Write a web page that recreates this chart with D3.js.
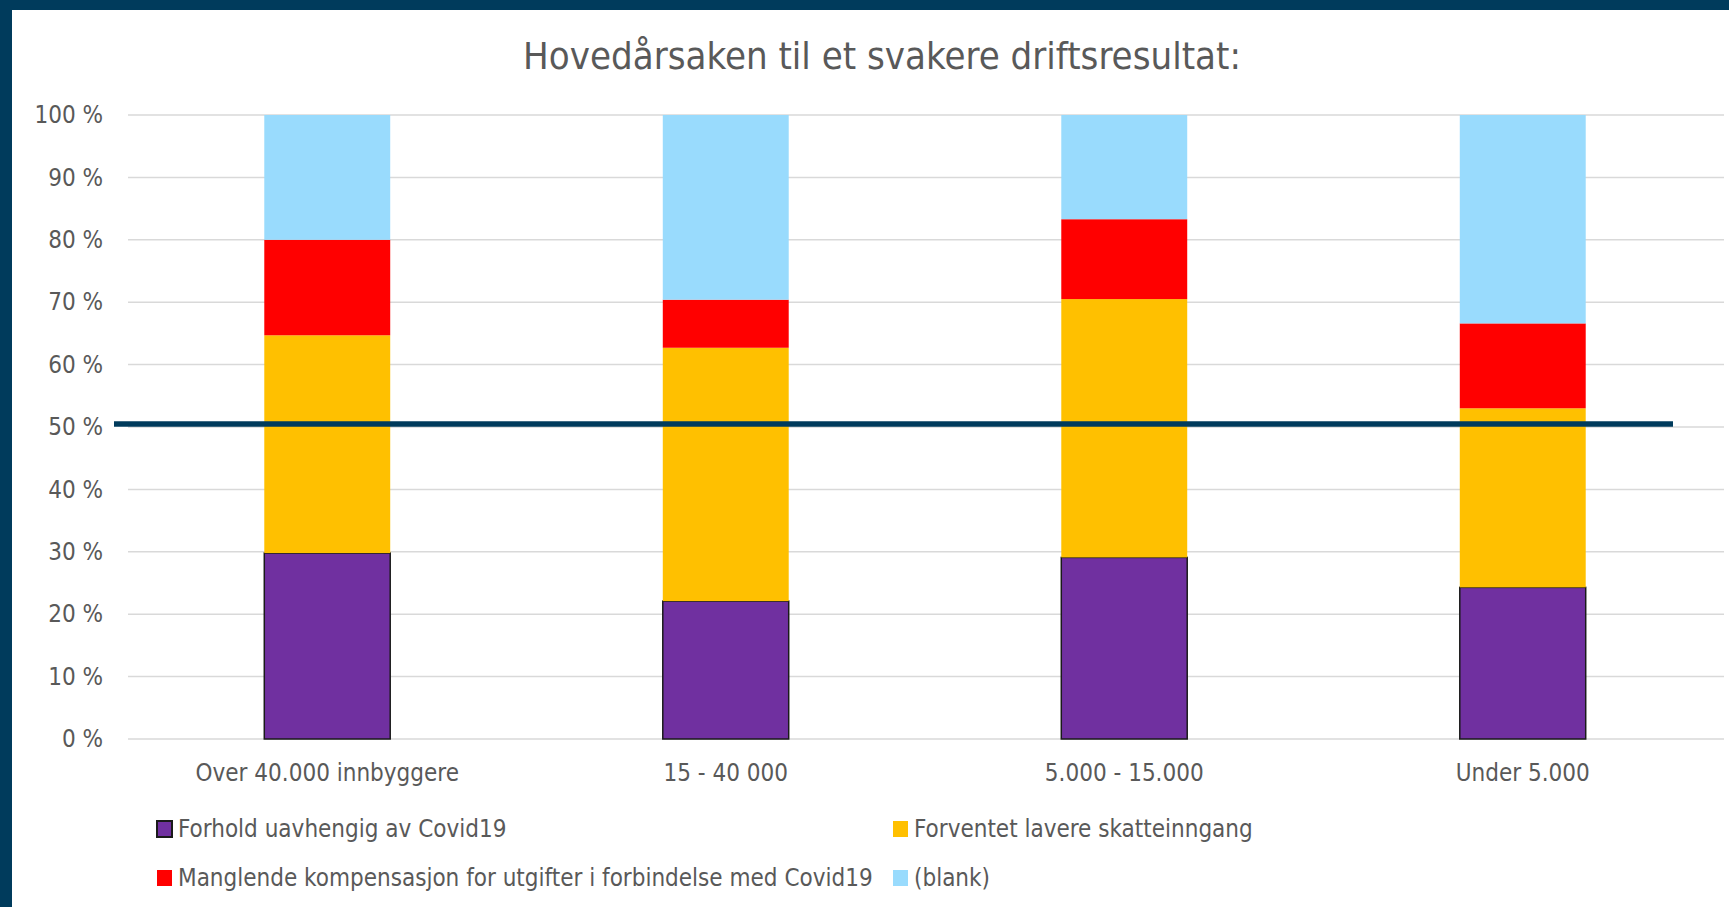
<!DOCTYPE html>
<html>
<head>
<meta charset="utf-8">
<script src="https://cdn.jsdelivr.net/npm/d3@7"></script>
<style>
  html, body { margin: 0; padding: 0; background: #fff; }
  svg { display: block; }
  text { font-family: "Liberation Sans Narrow", "DejaVu Sans Condensed", sans-serif; fill: #595959; }
</style>
</head>
<body>
<svg id="chart" width="1729" height="907"></svg>
<script>
// categories and series (percent of answers)
var categories = ["Over 40.000 innbyggere", "15 - 40 000", "5.000 - 15.000", "Under 5.000"];
var forhold    = [29.8, 22.1, 29.1, 24.3];
var forventet  = [34.9, 40.6, 41.4, 28.7];
var manglende  = [15.3, 7.7, 12.8, 13.6];
var blank      = [20.0, 29.6, 16.7, 33.4];
var seriesNames = ["Forhold uavhengig av Covid19", "Forventet lavere skatteinngang",
                   "Manglende kompensasjon for utgifter i forbindelse med Covid19", "(blank)"];
var yTicks = [0, 10, 20, 30, 40, 50, 60, 70, 80, 90, 100];
var refLine = 50.5;

var colors = ["#7030a0", "#ffc000", "#ff0000", "#99dbfd"];
var keys = ["forhold", "forventet", "manglende", "blank"];

var rows = categories.map(function(c, i) {
  return {cat: c, forhold: forhold[i], forventet: forventet[i], manglende: manglende[i], blank: blank[i]};
});

var svg = d3.select("#chart");
var W = 1729, H = 907;
var plotLeft = 128, plotRight = 1722, plotTop = 115, plotBottom = 739;
var labelFont = "24px";

// frame
svg.append("rect").attr("x", 0).attr("y", 0).attr("width", W).attr("height", H).attr("fill", "#fff");
svg.append("rect").attr("x", 0).attr("y", 0).attr("width", W).attr("height", 10).attr("fill", "#003b5c");
svg.append("rect").attr("x", 0).attr("y", 0).attr("width", 12).attr("height", H).attr("fill", "#003b5c");

var x = d3.scaleBand().domain(categories).range([plotLeft, plotRight]).paddingInner(0.684).paddingOuter(0.342);
var y = d3.scaleLinear().domain([0, 100]).range([plotBottom, plotTop]);

// title
svg.append("text")
  .attr("x", 882).attr("y", 69)
  .attr("text-anchor", "middle")
  .style("font-size", "38px")
  .text("Hovedårsaken til et svakere driftsresultat:");

// gridlines
svg.append("g").selectAll("line")
  .data(yTicks)
  .enter().append("line")
  .attr("x1", plotLeft).attr("x2", 1724)
  .attr("y1", function(d) { return y(d); })
  .attr("y2", function(d) { return y(d); })
  .attr("stroke", "#d9d9d9")
  .attr("stroke-width", 1.5);

// y axis labels
var yAxis = svg.append("g")
  .attr("transform", "translate(" + (plotLeft - 25) + ",0)")
  .call(d3.axisLeft(y).tickValues(yTicks).tickSize(0).tickPadding(0)
    .tickFormat(function(d) { return d + " %"; }));
yAxis.select(".domain").remove();
yAxis.selectAll("text")
  .attr("fill", "#595959")
  .style("font-family", "'Liberation Sans Narrow', 'DejaVu Sans Condensed', sans-serif")
  .style("font-size", labelFont);

// stacked bars
var stack = d3.stack().keys(keys);
var layers = stack(rows);

svg.append("g").selectAll("g")
  .data(layers)
  .enter().append("g")
  .attr("fill", function(d, i) { return colors[i]; })
  .attr("stroke", function(d, i) { return i === 0 ? "#1a1a1a" : "none"; })
  .attr("stroke-width", 1.5)
  .selectAll("rect")
  .data(function(d) { return d; })
  .enter().append("rect")
  .attr("x", function(d) { return x(d.data.cat); })
  .attr("y", function(d) { return y(d[1]); })
  .attr("width", x.bandwidth())
  .attr("height", function(d) { return y(d[0]) - y(d[1]); });

// x axis labels
var xAxis = svg.append("g")
  .attr("transform", "translate(0," + plotBottom + ")")
  .call(d3.axisBottom(x).tickSize(0).tickPadding(25));
xAxis.select(".domain").remove();
xAxis.selectAll("text")
  .attr("fill", "#595959")
  .style("font-family", "'Liberation Sans Narrow', 'DejaVu Sans Condensed', sans-serif")
  .style("font-size", labelFont);

// reference line
svg.append("line")
  .attr("x1", 114).attr("x2", 1673)
  .attr("y1", y(refLine)).attr("y2", y(refLine))
  .attr("stroke", "#003b5c")
  .attr("stroke-width", 5.5);

// legend
var legendPos = [[157, 829], [893, 829], [157, 878], [893, 878]];
var legend = svg.append("g").selectAll("g")
  .data(seriesNames)
  .enter().append("g")
  .attr("transform", function(d, i) { return "translate(" + legendPos[i][0] + "," + legendPos[i][1] + ")"; });

legend.append("rect")
  .attr("x", 0).attr("y", -8)
  .attr("width", 15).attr("height", 16)
  .attr("fill", function(d, i) { return colors[i]; })
  .attr("stroke", function(d, i) { return i === 0 ? "#1a1a1a" : "none"; })
  .attr("stroke-width", 2);

legend.append("text")
  .attr("x", 21).attr("y", 0)
  .attr("dy", "0.35em")
  .style("font-size", labelFont)
  .text(function(d) { return d; });
</script>
</body>
</html>
